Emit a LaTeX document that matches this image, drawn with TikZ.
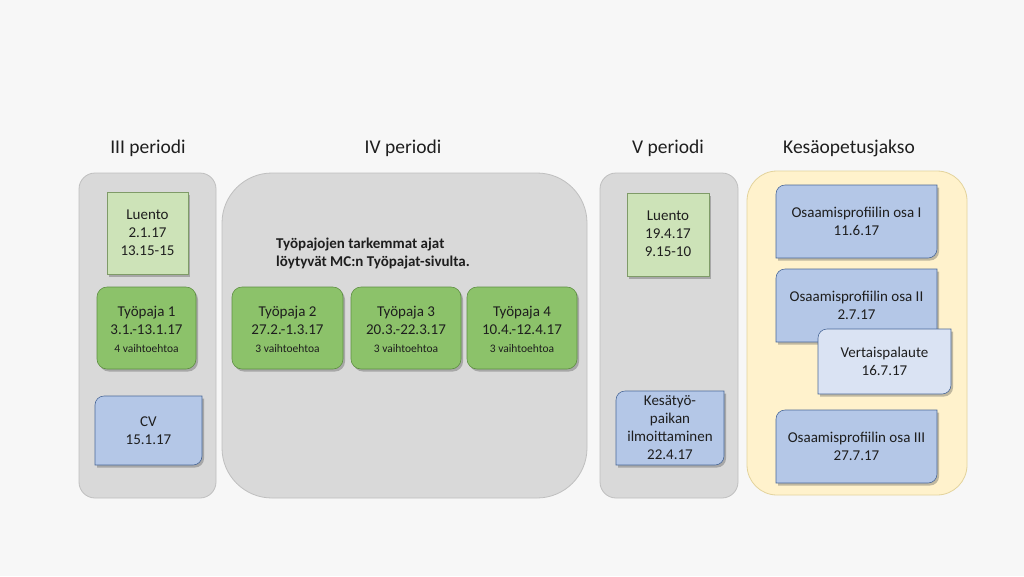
\documentclass[tikz,border=0pt]{standalone}
\usepackage{fontspec}
\setmainfont{Carlito}
\usetikzlibrary{shadows}
\definecolor{bg}{HTML}{F7F7F7}
\definecolor{contfill}{HTML}{D9D9D9}
\definecolor{contdraw}{HTML}{BFBFBF}
\definecolor{kesafill}{HTML}{FFF2CC}
\definecolor{kesadraw}{HTML}{E3D39C}
\definecolor{lgreen}{HTML}{CDE3B8}
\definecolor{lgreendraw}{HTML}{7F9B68}
\definecolor{dgreen}{HTML}{8CC26A}
\definecolor{dgreendraw}{HTML}{5E8F42}
\definecolor{bluefill}{HTML}{B4C7E7}
\definecolor{bluedraw}{HTML}{4A6898}
\definecolor{lbluefill}{HTML}{DAE3F3}
\definecolor{txt}{HTML}{1E1E1E}
\tikzset{
  container/.style={fill=contfill,draw=contdraw,line width=0.8pt},
  kesabox/.style={fill=kesafill,draw=kesadraw,line width=0.8pt},
  shad/.style={drop shadow={shadow xshift=2pt,shadow yshift=-2.5pt,opacity=0.35,fill=black!70}},
  luentobox/.style={fill=lgreen,draw=lgreendraw,line width=0.6pt,shad},
  tpbox/.style={fill=dgreen,draw=dgreendraw,line width=0.6pt,rounded corners=10pt,shad},
  bluebox/.style={fill=bluefill,draw=bluedraw,line width=0.6pt,shad},
  lbluebox/.style={fill=lbluefill,draw=bluedraw,line width=0.6pt,shad},
  boxtext/.style={align=center,text=txt,font=\fontsize{15}{18}\selectfont,inner sep=0pt},
  periodlabel/.style={text=txt,font=\fontsize{19.5}{22}\selectfont,inner sep=0pt},
}
\newcommand\rdbox[7]{%
  \path[#6] (#2,#5) -- (#2,#3+9) .. controls (#2,#3+4) and (#2+4,#3) .. (#2+9,#3) -- (#4,#3) -- (#4,#5-9) .. controls (#4,#5-4) and (#4-4,#5) .. (#4-9,#5) -- cycle;
  \node[boxtext] (#1) at ({(#2+#4)/2},{(#3+#5)/2}) {#7};}
\newcommand\smalltxt[1]{{\fontsize{11.5}{17}\selectfont #1}}
\begin{document}
\begin{tikzpicture}[x=1pt,y=-1pt]
\useasboundingbox[fill=bg] (0,0) rectangle (1024,576);
% period labels
\node[periodlabel] (l3) at (148,148) {III periodi};
\node[periodlabel] (l4) at (403,148) {IV periodi};
\node[periodlabel] (l5) at (668,148) {V periodi};
\node[periodlabel] (lk) at (849,148) {Kesäopetusjakso};
% containers
\path[container,rounded corners=16pt] (79,173) rectangle (216,498);
\path[container,rounded corners=50pt] (222,173) rectangle (587,498);
\path[container,rounded corners=16pt] (600,173) rectangle (738,498);
\path[kesabox,rounded corners=30pt] (747,171) rectangle (967,495);
% III periodi
\path[luentobox] (107,192) rectangle (188,274);
\node[boxtext] (lu1) at (147.5,233) {Luento\\2.1.17\\13.15-15};
\path[tpbox] (97,287) rectangle (196,369);
\node[boxtext] (tp1) at (146.5,329) {Työpaja 1\\3.1.-13.1.17\\\smalltxt{4 vaihtoehtoa}};
\rdbox{cv}{95}{396}{202}{465}{bluebox}{CV\\15.1.17}
% IV periodi
\node[anchor=west,align=left,text=txt,font=\bfseries\fontsize{15}{18}\selectfont,inner sep=0pt] (info) at (276,253) {Työpajojen tarkemmat ajat\\löytyvät MC:n Työpajat-sivulta.};
\path[tpbox] (232,287) rectangle (343,369);
\node[boxtext] (tp2) at (287.5,329) {Työpaja 2\\27.2.-1.3.17\\\smalltxt{3 vaihtoehtoa}};
\path[tpbox] (351,287) rectangle (461,369);
\node[boxtext] (tp3) at (406,329) {Työpaja 3\\20.3.-22.3.17\\\smalltxt{3 vaihtoehtoa}};
\path[tpbox] (467,287) rectangle (577,369);
\node[boxtext] (tp4) at (522,329) {Työpaja 4\\10.4.-12.4.17\\\smalltxt{3 vaihtoehtoa}};
% V periodi
\path[luentobox] (627,193) rectangle (709,276);
\node[boxtext] (lu2) at (668,234) {Luento\\19.4.17\\9.15-10};
\rdbox{kt}{616}{391}{724}{465}{bluebox}{Kesätyö-\\paikan\\ilmoittaminen\\22.4.17}
% Kesaopetusjakso
\rdbox{o1}{776}{185}{937}{258}{bluebox}{Osaamisprofiilin osa I\\11.6.17}
\rdbox{o2}{776}{269}{937}{342}{bluebox}{Osaamisprofiilin osa II\\2.7.17}
\rdbox{vp}{818}{329}{951}{394}{lbluebox}{Vertaispalaute\\16.7.17}
\rdbox{o3}{776}{410}{937}{483}{bluebox}{Osaamisprofiilin osa III\\27.7.17}
\end{tikzpicture}
\end{document}
